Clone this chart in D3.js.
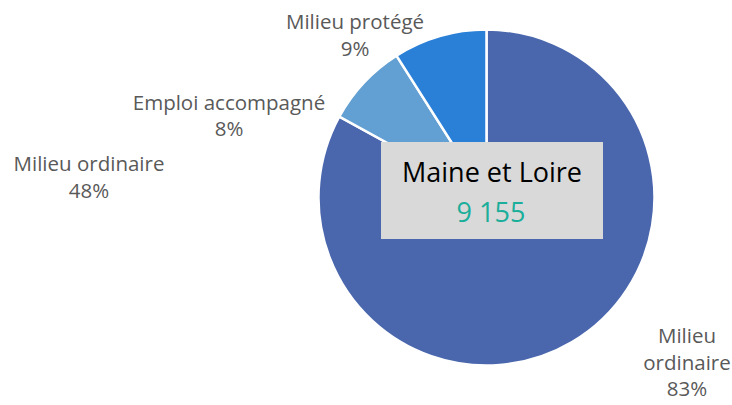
<!DOCTYPE html>
<html>
<head>
<meta charset="utf-8">
<script src="https://cdn.jsdelivr.net/npm/d3@7"></script>
<style>
  html, body { margin: 0; padding: 0; background: #fff; }
  svg { display: block; }
  text { font-family: "Open Sans", sans-serif; }
</style>
</head>
<body>
<div id="chart"></div>
<script>
// Data
const categories = ['Milieu ordinaire', 'Emploi accompagné', 'Milieu protégé'];
const shares = [83, 8, 9];
const colors = ['#4A67AE', '#629FD2', '#2A7FD7'];

// stray label left over in the original picture
const extraLabel = ['Milieu ordinaire', '48%'];

const boxTitle = 'Maine et Loire';
const boxValue = '9 155';

const W = 732, H = 405;
const center = { x: 486.5, y: 197.5 };
const radius = 168;

// label boxes (line texts positioned around the pie, Excel style)
const labelLayout = [
    { x: 687, y: 343, lines: ['Milieu', 'ordinaire'], dy: 26.5 },
    { x: 229, y: 110, lines: ['Emploi accompagné'], dy: 26 },
    { x: 355, y: 29, lines: ['Milieu protégé'], dy: 27 }
];

const svg = d3.select('#chart')
    .append('svg')
    .attr('width', W)
    .attr('height', H);

const pie = d3.pie()
    .value(d => d)
    .sort(null)
    .startAngle(0)
    .endAngle(2 * Math.PI);

const arc = d3.arc()
    .innerRadius(0)
    .outerRadius(radius);

const g = svg.append('g')
    .attr('transform', `translate(${center.x},${center.y})`);

g.selectAll('path')
    .data(pie(shares))
    .enter()
    .append('path')
    .attr('d', arc)
    .attr('fill', (d, i) => colors[i])
    .attr('stroke', '#fff')
    .attr('stroke-width', 2.5)
    .attr('stroke-linejoin', 'miter');

// data labels
labelLayout.forEach((l, i) => {
    const lines = l.lines.concat([shares[i] + '%']);
    const t = svg.append('text')
        .attr('text-anchor', 'middle')
        .style('font-size', '20.5px')
        .style('fill', '#595959');
    lines.forEach((s, k) => {
        t.append('tspan')
            .attr('x', l.x)
            .attr('y', l.y + k * l.dy)
            .text(s);
    });
});

const extra = svg.append('text')
    .attr('text-anchor', 'middle')
    .style('font-size', '20.5px')
    .style('fill', '#595959');
extraLabel.forEach((s, k) => {
    extra.append('tspan')
        .attr('x', 89)
        .attr('y', 171 + k * 27)
        .text(s);
});

// central box
svg.append('rect')
    .attr('x', 381)
    .attr('y', 142)
    .attr('width', 222)
    .attr('height', 97)
    .attr('fill', '#D9D9D9');

svg.append('text')
    .attr('x', 492)
    .attr('y', 182)
    .attr('text-anchor', 'middle')
    .style('font-size', '27px')
    .style('fill', '#000')
    .text(boxTitle);

svg.append('text')
    .attr('x', 491)
    .attr('y', 222)
    .attr('text-anchor', 'middle')
    .style('font-size', '27px')
    .style('fill', '#1BAE9B')
    .text(boxValue);
</script>
</body>
</html>
